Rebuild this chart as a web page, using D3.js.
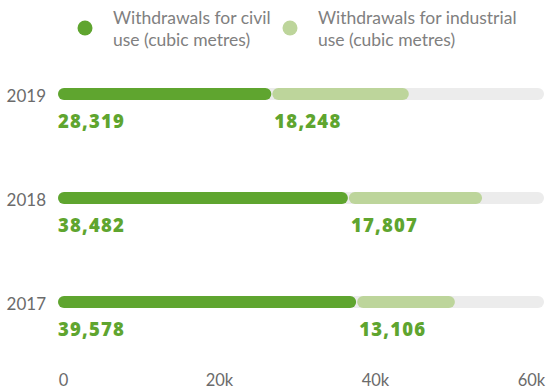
<!DOCTYPE html>
<html>
<head>
<meta charset="utf-8">
<script src="https://cdn.jsdelivr.net/npm/d3@7"></script>
<style>
  html, body { margin: 0; padding: 0; background: #fff; }
  svg { display: block; }
</style>
</head>
<body>
<svg id="chart" width="547" height="390"></svg>
<script>
// ---- data ----
const years = ["2019", "2018", "2017"];
const civilUse = [28319, 38482, 39578];
const industrialUse = [18248, 17807, 13106];
const seriesNames = ["Withdrawals for civil use (cubic metres)", "Withdrawals for industrial use (cubic metres)"];
const legendLines = [["Withdrawals for civil", "use (cubic metres)"], ["Withdrawals for industrial", "use (cubic metres)"]];
const tickValues = [0, 20000, 40000, 60000];
const tickLabels = ["0", "20k", "40k", "60k"];

// ---- style ----
const W = 547, H = 390;
const cDark = "#5fa52f", cLight = "#bdd59b", cTrack = "#ececec";
const textGray = "#6b6b6b";

const svg = d3.select("#chart");

// bar scale
const x = d3.scaleLinear().domain([0, 60000]).range([58, 510]);
// axis label scale (the infographic's axis labels are spaced independently)
const xAxis = d3.scaleLinear().domain([0, 60000]).range([63, 531]);
const y = d3.scalePoint().domain(years).range([94, 302]);
const barH = 12;
const trackEnd = 544;

// legend
const legendX = [85, 290];
const leg = svg.append("g");
legendLines.forEach((lines, i) => {
  const g = leg.append("g").attr("transform", `translate(${legendX[i]},0)`);
  g.append("circle").attr("cx", 0).attr("cy", 28).attr("r", 7.5)
    .attr("fill", i === 0 ? cDark : cLight);
  const t = g.append("text").attr("x", 28).attr("y", 24)
    .attr("font-family", "Lato, 'Open Sans', sans-serif")
    .attr("font-size", 17.5).attr("fill", "#808080");
  lines.forEach((ln, j) => {
    t.append("tspan").attr("x", 28).attr("dy", j === 0 ? 0 : 22).text(ln);
  });
});

// rows
const rows = svg.append("g").selectAll("g").data(years).join("g")
  .attr("transform", d => `translate(0,${y(d)})`);

rows.append("rect")
  .attr("x", x(0)).attr("y", -barH / 2)
  .attr("width", trackEnd - x(0)).attr("height", barH)
  .attr("rx", barH / 2).attr("fill", cTrack);

rows.append("rect")
  .attr("x", (d, i) => x(civilUse[i]) + 1).attr("y", -barH / 2)
  .attr("width", (d, i) => x(civilUse[i] + industrialUse[i]) - x(civilUse[i]) - 1)
  .attr("height", barH).attr("rx", barH / 2).attr("fill", cLight);

rows.append("rect")
  .attr("x", x(0)).attr("y", -barH / 2)
  .attr("width", (d, i) => x(civilUse[i]) - x(0))
  .attr("height", barH).attr("rx", barH / 2).attr("fill", cDark);

rows.append("text")
  .attr("x", 46).attr("y", 8)
  .attr("text-anchor", "end")
  .attr("font-family", "Lato, 'Open Sans', sans-serif")
  .attr("font-size", 17).attr("fill", textGray)
  .text(d => d);

const fmt = d3.format(",");
rows.append("text")
  .attr("x", x(0)).attr("y", 34)
  .attr("font-family", "'Open Sans', sans-serif").attr("font-weight", 800)
  .attr("font-size", 18.5).attr("letter-spacing", 1.2).attr("fill", cDark)
  .text((d, i) => fmt(civilUse[i]));

rows.append("text")
  .attr("x", (d, i) => x(civilUse[i]) + 3).attr("y", 34)
  .attr("font-family", "'Open Sans', sans-serif").attr("font-weight", 800)
  .attr("font-size", 18.5).attr("letter-spacing", 1.2).attr("fill", cDark)
  .text((d, i) => fmt(industrialUse[i]));

// axis
const axis = d3.axisBottom(xAxis).tickValues(tickValues)
  .tickFormat((d, i) => tickLabels[i]).tickSize(0).tickPadding(0);
const ag = svg.append("g").attr("transform", "translate(0,370)").call(axis);
ag.select(".domain").remove();
ag.selectAll("text")
  .attr("font-family", "Lato, 'Open Sans', sans-serif")
  .attr("font-size", 16.5).attr("fill", textGray).attr("dy", "0.95em");
</script>
</body>
</html>
